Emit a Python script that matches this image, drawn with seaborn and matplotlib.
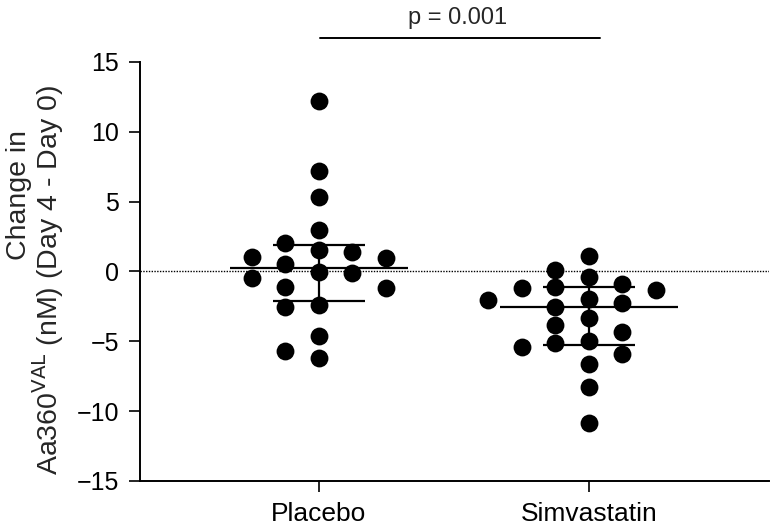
#!/usr/bin/env python3
"""Scatter dot plot of Aa360 change, placebo vs simvastatin, median with IQR."""

import matplotlib

matplotlib.use("Agg")

import matplotlib.pyplot as plt
import numpy as np
import pandas as pd
import seaborn as sns

GROUPS = ["Placebo", "Simvastatin"]

PLACEBO = [12.24, 7.16, 5.31, 2.95, 2.05, 1.57, 1.38, 1.02, 0.93, 0.57,
           -0.05, -0.10, -0.50, -1.12, -1.17, -2.43, -2.55, -4.62, -5.69, -6.17]
SIMVASTATIN = [1.10, 0.14, -0.40, -0.88, -1.12, -1.17, -1.36, -2.00, -2.05,
               -2.24, -2.55, -3.36, -3.83, -4.31, -4.98, -5.10, -5.38, -5.93,
               -6.64, -8.24, -10.86]

Y_TICKS = [-15, -10, -5, 0, 5, 10, 15]
P_TEXT = "p = 0.001"
YLABEL_LINES = ["Change in", "Aa360$^{\\mathrm{VAL}}$ (nM) (Day 4 - Day 0)"]

DOT_DIAM = 1.25      # dot diameter in data units (vertical)
SLOT = 0.124         # horizontal spacing between columns of dots


def swarm_offsets(values):
    """GraphPad-like column layout: greedy, nearest free slot to the centre."""
    order = np.argsort(values)[::-1]
    candidates = sorted(np.arange(-8, 9) * 0.5, key=lambda k: (abs(k), k))
    placed = []
    offsets = np.zeros(len(values))
    for i in order:
        y = values[i]
        band = [(k, v) for k, v in placed if abs(v - y) < DOT_DIAM]
        for k in candidates:
            if all(abs(k - kk) >= 0.999 for kk, _ in band):
                break
        placed.append((k, y))
        offsets[i] = k * SLOT
    return offsets


frames = []
for pos, (name, vals) in enumerate(zip(GROUPS, [PLACEBO, SIMVASTATIN])):
    vals = np.asarray(vals)
    frames.append(pd.DataFrame({
        "group": name,
        "x": pos + swarm_offsets(vals),
        "value": vals,
    }))
df = pd.concat(frames, ignore_index=True)

sns.set_theme(style="ticks")
plt.rcParams["font.family"] = ["Liberation Sans", "DejaVu Sans"]

fig = plt.figure(figsize=(7.73, 5.32), dpi=100)
ax = fig.add_axes([0.1811, 0.0959, 0.8137, 0.7876])

ax.axhline(0, color="black", lw=1.0, ls=(0, (1, 1)), zorder=1)

sns.scatterplot(data=df, x="x", y="value", color="black", s=165,
                linewidth=0, ax=ax, zorder=3, legend=False)

for pos, name in enumerate(GROUPS):
    vals = df.loc[df["group"] == name, "value"].to_numpy()
    q1, med, q3 = np.percentile(vals, [25, 50, 75], method="weibull")
    ax.hlines(med, pos - 0.33, pos + 0.33, color="black", lw=1.6, zorder=4)
    ax.hlines([q1, q3], pos - 0.17, pos + 0.17, color="black", lw=1.6, zorder=4)
    ax.vlines(pos, q1, q3, color="black", lw=1.6, zorder=4)

ax.set_xlim(-0.663, 1.667)
ax.set_ylim(-15, 15)
ax.set_yticks(Y_TICKS)
ax.set_xticks(range(len(GROUPS)))
ax.set_xticklabels(GROUPS, fontsize=19)
ax.set_xlabel("")
ax.set_ylabel("")
ax.tick_params(axis="both", labelsize=18, length=8, width=1.2, colors="black")
ax.tick_params(axis="x", labelsize=19, pad=7)
ax.tick_params(axis="y", pad=7)
for side in ["left", "bottom"]:
    ax.spines[side].set_linewidth(1.4)
    ax.spines[side].set_color("black")
sns.despine(ax=ax)

# two-line y label, each line placed as in the original
ax.text(-0.192, 0.683, YLABEL_LINES[0], rotation=90, ha="center", va="center",
        fontsize=20.5, transform=ax.transAxes)
ax.text(-0.146, 0.48, YLABEL_LINES[1], rotation=90, ha="center", va="center",
        fontsize=20.5, transform=ax.transAxes)

# significance bracket
ax.plot([0.004, 1.04], [16.7, 16.7], color="black", lw=1.4, clip_on=False)
ax.text(0.515, 17.7, P_TEXT, ha="center", va="baseline", fontsize=17)

fig.savefig("out.png", dpi=100)
